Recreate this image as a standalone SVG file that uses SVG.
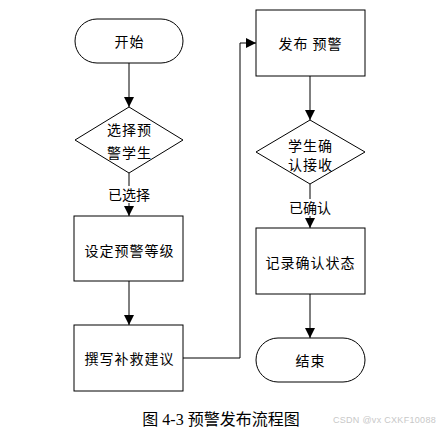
<svg xmlns="http://www.w3.org/2000/svg" width="441" height="433" viewBox="0 0 441 433">
<style>
.s{fill:#fff;stroke:#000;stroke-width:1}
.t{font-family:"Noto Sans CJK SC","Liberation Sans",sans-serif;font-size:14px;letter-spacing:1px;fill:#000;text-anchor:middle;dominant-baseline:central}
.l{font-family:"Noto Sans CJK SC","Liberation Sans",sans-serif;font-size:14px;fill:#000;text-anchor:middle;dominant-baseline:central}
.c{fill:none;stroke:#000;stroke-width:1}
</style>
<defs>
<marker id="a" viewBox="0 0 10 10" refX="10" refY="5" markerWidth="10" markerHeight="10" markerUnits="userSpaceOnUse" orient="auto">
<path d="M0,0 L10,5 L0,10 z" fill="#000"/>
</marker>
</defs>
<rect width="441" height="433" fill="#fff"/>
<g id="connectors">
<line class="c" x1="129" y1="63" x2="129" y2="107" marker-end="url(#a)"/>
<line class="c" x1="129" y1="173" x2="129" y2="216" marker-end="url(#a)"/>
<line class="c" x1="129" y1="281" x2="129" y2="325" marker-end="url(#a)"/>
<polyline class="c" points="183,358 240,358 240,43 256,43" marker-end="url(#a)"/>
<line class="c" x1="310" y1="76" x2="310" y2="120" marker-end="url(#a)"/>
<line class="c" x1="310" y1="184" x2="310" y2="228" marker-end="url(#a)"/>
<line class="c" x1="310" y1="294" x2="310" y2="338" marker-end="url(#a)"/>
<rect x="107" y="186" width="44" height="17" fill="#fff"/>
<text class="l" x="129" y="194">已选择</text>
<rect x="288" y="199" width="44" height="17" fill="#fff"/>
<text class="l" x="310" y="207">已确认</text>
</g>
<g id="start">
<rect class="s" x="75" y="19" width="108" height="44" rx="22"/>
<text class="t" x="129.5" y="41">开始</text>
</g>
<g id="select">
<polygon class="s" points="129,107 183,140 129,173 75,140"/>
<text class="t" x="129.5" y="129">选择预</text>
<text class="t" x="129.5" y="152">警学生</text>
</g>
<g id="level">
<rect class="s" x="74" y="216" width="109" height="65"/>
<text class="t" x="129.5" y="250">设定预警等级</text>
</g>
<g id="advice">
<rect class="s" x="74" y="325" width="109" height="66"/>
<text class="t" x="129.5" y="358">撰写补救建议</text>
</g>
<g id="publish">
<rect class="s" x="256" y="10" width="109" height="66"/>
<text class="t" x="310.5" y="43">发布 预警</text>
</g>
<g id="confirm">
<polygon class="s" points="310,120 365,152 310,184 256,152"/>
<text class="t" x="310.5" y="145">学生确</text>
<text class="t" x="310.5" y="164">认接收</text>
</g>
<g id="record">
<rect class="s" x="256" y="228" width="109" height="66"/>
<text class="t" x="310.5" y="262">记录确认状态</text>
</g>
<g id="end">
<rect class="s" x="256" y="338" width="109" height="44" rx="22"/>
<text class="t" x="310.5" y="360">结束</text>
</g>
<text x="221" y="419" font-family="'Liberation Serif','Noto Sans CJK SC',serif" font-size="16" text-anchor="middle" dominant-baseline="central">图 4-3 预警发布流程图</text>
<text x="436" y="420" font-family="'Liberation Sans',sans-serif" font-size="9" fill="#c8c8c8" text-anchor="end" dominant-baseline="central" letter-spacing="0.3">CSDN @vx  CXKF10088</text>
</svg>
